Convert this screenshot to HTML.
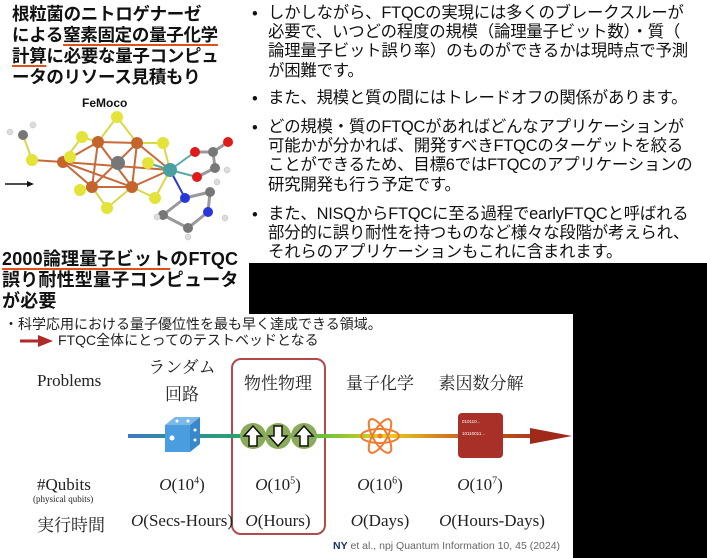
<!DOCTYPE html>
<html><head><meta charset="utf-8"><style>
*{margin:0;padding:0;box-sizing:border-box}
body{width:707px;height:558px;background:#fff;position:relative;overflow:hidden;font-family:"Liberation Sans","Noto Sans CJK JP",sans-serif;color:#111}
.a{position:absolute;white-space:nowrap}
.h{font-weight:bold;font-size:17.5px;line-height:21px;letter-spacing:-0.3px}
.u{text-decoration:underline;text-decoration-color:#e0501a;text-decoration-thickness:2px;text-underline-offset:3px}
.r{font-size:16.4px;line-height:19.2px;color:#111;letter-spacing:-0.2px}
.s{font-family:"Liberation Serif","Noto Serif CJK SC",serif;color:#222}
.c{transform:translateX(-50%)}
</style></head><body>
<div class="a h" style="left:12px;top:4px">根粒菌のニトロゲナーゼ<br>による<span class="u">窒素固定の量子化学</span><br><span class="u">計算</span>に必要な量子コンピュ<br>ータのリソース見積もり</div>
<div class="a" style="left:82px;top:96px;font-weight:bold;font-size:12px">FeMoco</div>
<svg class="a" style="left:0;top:110px" width="245" height="140" viewBox="0 110 245 140">
<g stroke="#c8693a" stroke-width="2">
<line x1="98" y1="142" x2="137" y2="143"/><line x1="98" y1="142" x2="63" y2="162"/><line x1="98" y1="142" x2="92" y2="187"/><line x1="98" y1="142" x2="132" y2="187"/><line x1="137" y1="143" x2="132" y2="187"/><line x1="137" y1="143" x2="92" y2="187"/><line x1="63" y1="162" x2="92" y2="187"/><line x1="63" y1="162" x2="132" y2="187"/><line x1="92" y1="187" x2="132" y2="187"/><line x1="63" y1="162" x2="170" y2="170"/><line x1="137" y1="143" x2="170" y2="170"/><line x1="132" y1="187" x2="170" y2="170"/><line x1="32" y1="160" x2="63" y2="162"/>
</g>
<g stroke="#d8d84a" stroke-width="2">
<line x1="117" y1="117" x2="98" y2="142"/><line x1="117" y1="117" x2="137" y2="143"/><line x1="82" y1="137" x2="98" y2="142"/><line x1="82" y1="137" x2="63" y2="162"/><line x1="80" y1="190" x2="92" y2="187"/><line x1="107" y1="208" x2="92" y2="187"/><line x1="107" y1="208" x2="132" y2="187"/><line x1="155" y1="198" x2="132" y2="187"/><line x1="155" y1="198" x2="170" y2="170"/><line x1="163" y1="143" x2="137" y2="143"/><line x1="163" y1="143" x2="170" y2="170"/><line x1="148" y1="163" x2="170" y2="170"/><line x1="23" y1="135" x2="32" y2="160"/>
</g>
<g stroke="#5aa8a8" stroke-width="2"><line x1="170" y1="170" x2="195" y2="152"/><line x1="170" y1="170" x2="197" y2="177"/><line x1="170" y1="170" x2="148" y2="163"/></g>
<g stroke="#2a3ccc" stroke-width="2"><line x1="170" y1="170" x2="185" y2="198"/></g>
<g stroke="#999" stroke-width="3"><line x1="195" y1="152" x2="213" y2="152"/><line x1="213" y1="152" x2="228" y2="142"/><line x1="213" y1="152" x2="215" y2="168"/><line x1="215" y1="168" x2="197" y2="177"/><line x1="185" y1="198" x2="210" y2="192"/><line x1="210" y1="192" x2="208" y2="212"/><line x1="208" y1="212" x2="188" y2="228"/><line x1="188" y1="228" x2="163" y2="215"/><line x1="163" y1="215" x2="185" y2="198"/></g>
<g fill="#c5652e"><circle cx="98" cy="142" r="6"/><circle cx="137" cy="143" r="6"/><circle cx="63" cy="162" r="6"/><circle cx="92" cy="187" r="6"/><circle cx="132" cy="187" r="6"/></g>
<circle cx="118" cy="163" r="7" fill="#777"/>
<circle cx="170" cy="170" r="7" fill="#4aa0a0"/>
<g fill="#e3e33a"><circle cx="117" cy="117" r="6"/><circle cx="82" cy="137" r="6"/><circle cx="70" cy="157" r="6"/><circle cx="163" cy="143" r="6"/><circle cx="148" cy="163" r="6"/><circle cx="80" cy="190" r="6"/><circle cx="107" cy="208" r="6"/><circle cx="155" cy="198" r="6"/><circle cx="32" cy="160" r="6"/></g>
<g fill="#777"><circle cx="23" cy="135" r="5"/><circle cx="213" cy="152" r="5"/><circle cx="215" cy="168" r="5"/><circle cx="210" cy="192" r="5"/><circle cx="188" cy="228" r="5"/><circle cx="163" cy="215" r="5"/></g>
<g fill="#e01a1a"><circle cx="195" cy="152" r="5"/><circle cx="197" cy="177" r="5"/><circle cx="228" cy="142" r="5"/></g>
<g fill="#2838d8"><circle cx="185" cy="198" r="5"/><circle cx="208" cy="212" r="5"/></g>
<g fill="#ddd" stroke="#bbb" stroke-width="0.5"><circle cx="10" cy="132" r="3"/><circle cx="33" cy="125" r="3"/><circle cx="227" cy="170" r="3"/><circle cx="217" cy="182" r="3"/><circle cx="225" cy="218" r="3"/><circle cx="188" cy="237" r="3"/><circle cx="157" cy="217" r="3"/></g>
<line x1="5" y1="184" x2="29" y2="184" stroke="#111" stroke-width="1.5"/><polygon points="34,184 27,181 27,187" fill="#111"/>
</svg>
<div class="a h" style="left:2px;top:249px;font-size:18px;letter-spacing:0.2px"><span class="u">2000論理量子ビット</span>のFTQC<br>誤り耐性型量子コンピュータ<br>が必要</div>

<div class="a r" style="left:252px;top:5px">•</div>
<div class="a r" style="left:268px;top:4px">しかしながら、FTQCの実現には多くのブレークスルーが<br>必要で、いつどの程度の規模（論理量子ビット数）・質（<br>論理量子ビット誤り率）のものができるかは現時点で予測<br>が困難です。</div>
<div class="a r" style="left:252px;top:90px">•</div>
<div class="a r" style="left:268px;top:89px">また、規模と質の間にはトレードオフの関係があります。</div>
<div class="a r" style="left:252px;top:119px">•</div>
<div class="a r" style="left:268px;top:118px">どの規模・質のFTQCがあればどんなアプリケーションが<br>可能かが分かれば、開発すべきFTQCのターゲットを絞る<br>ことができるため、目標6ではFTQCのアプリケーションの<br>研究開発も行う予定です。</div>
<div class="a r" style="left:252px;top:206px">•</div>
<div class="a r" style="left:268px;top:205px">また、NISQからFTQCに至る過程でearlyFTQCと呼ばれる<br>部分的に誤り耐性を持つものなど様々な段階が考えられ、<br>それらのアプリケーションもこれに含まれます。</div>

<div class="a" style="left:249px;top:263px;width:458px;height:51px;background:#000"></div>
<div class="a" style="left:573px;top:263px;width:134px;height:295px;background:#000"></div>

<div class="a" style="left:4px;top:316px;font-size:14px;line-height:17px;color:#222">・科学応用における量子優位性を最も早く達成できる領域。</div>
<svg class="a" style="left:20px;top:335px" width="34" height="12"><rect x="0" y="4.5" width="20" height="3" fill="#b02a2a"/><polygon points="18,0 33,6 18,12" fill="#b02a2a"/></svg>
<div class="a" style="left:58px;top:332px;font-size:14px;line-height:17px;color:#222">FTQC全体にとってのテストベッドとなる</div>

<div class="a" style="left:231px;top:358px;width:95px;height:177px;border:2px solid #b24a4a;border-radius:10px"></div>
<div class="a s" style="left:37px;top:371px;font-size:17px">Problems</div>
<div class="a s c" style="left:182px;top:354px;font-size:17px;line-height:27px;text-align:center">ランダム<br>回路</div>
<div class="a s c" style="left:278px;top:369px;font-size:17px">物性物理</div>
<div class="a s c" style="left:380px;top:369px;font-size:17px">量子化学</div>
<div class="a s c" style="left:481px;top:369px;font-size:17px">素因数分解</div>

<svg class="a" style="left:0;top:400px" width="580" height="70" viewBox="0 400 580 70">
<defs><linearGradient id="g" x1="128" y1="0" x2="560" y2="0" gradientUnits="userSpaceOnUse">
<stop offset="0" stop-color="#3a7cc4"/><stop offset="0.25" stop-color="#2aa070"/><stop offset="0.45" stop-color="#6ac23a"/><stop offset="0.6" stop-color="#e8d020"/><stop offset="0.75" stop-color="#d07020"/><stop offset="1" stop-color="#a02a1a"/></linearGradient></defs>
<rect x="128" y="434" width="410" height="4" fill="url(#g)"/>
<polygon points="530,428 572,436 530,444" fill="#a02a1a"/>
<polygon points="165,425 175,417 200,417 190,425" fill="#7ab8e8"/>
<polygon points="190,425 200,417 200,444 190,452" fill="#3a88cc"/>
<rect x="165" y="425" width="25" height="27" fill="#4a9ee0"/>
<circle cx="172" cy="438" r="2.5" fill="#fff"/><circle cx="177" cy="421" r="1.5" fill="#fff"/><circle cx="188" cy="421" r="1.5" fill="#fff"/><circle cx="195" cy="430" r="1.5" fill="#fff"/><circle cx="195" cy="440" r="1.5" fill="#fff"/>
<g fill="#8aac5a"><circle cx="253" cy="436" r="13"/><circle cx="278" cy="436" r="13"/><circle cx="304" cy="436" r="13"/></g>
<g fill="#fff" stroke="#111" stroke-width="1.5"><polygon points="253,426 262,436 257,436 257,446 249,446 249,436 244,436"/><polygon points="278,446 287,436 282,436 282,426 274,426 274,436 269,436"/><polygon points="304,426 313,436 308,436 308,446 300,446 300,436 295,436"/></g>
<g fill="none" stroke="#f07a30" stroke-width="2"><ellipse cx="380" cy="436" rx="19" ry="7"/><ellipse cx="380" cy="436" rx="19" ry="7" transform="rotate(60 380 436)"/><ellipse cx="380" cy="436" rx="19" ry="7" transform="rotate(-60 380 436)"/></g>
<circle cx="380" cy="436" r="2.5" fill="#f07a30"/>
<rect x="458" y="413" width="45" height="45" rx="4" fill="#a83028"/>
<text x="462" y="423" font-size="4.5" fill="#fff" font-family="Liberation Sans">010110...</text>
<text x="462" y="435" font-size="4.5" fill="#fff" font-family="Liberation Sans">10110011...</text>
</svg>

<div class="a s" style="left:37px;top:475px;font-size:17px">#Qubits</div>
<div class="a s" style="left:33px;top:494px;font-size:9px">(physical qubits)</div>
<div class="a s c" style="left:182px;top:475px;font-size:17px"><i>O</i>(10<sup style="font-size:10px">4</sup>)</div>
<div class="a s c" style="left:278px;top:475px;font-size:17px"><i>O</i>(10<sup style="font-size:10px">5</sup>)</div>
<div class="a s c" style="left:380px;top:475px;font-size:17px"><i>O</i>(10<sup style="font-size:10px">6</sup>)</div>
<div class="a s c" style="left:480px;top:475px;font-size:17px"><i>O</i>(10<sup style="font-size:10px">7</sup>)</div>
<div class="a s" style="left:37px;top:511px;font-size:17px">実行時間</div>
<div class="a s c" style="left:182px;top:511px;font-size:17px"><i>O</i>(Secs-Hours)</div>
<div class="a s c" style="left:278px;top:511px;font-size:17px"><i>O</i>(Hours)</div>
<div class="a s c" style="left:380px;top:511px;font-size:17px"><i>O</i>(Days)</div>
<div class="a s c" style="left:492px;top:511px;font-size:17px"><i>O</i>(Hours-Days)</div>
<div class="a" style="left:333px;top:540px;font-size:10.5px;color:#666"><b style="color:#1a2e6a">NY</b> et al., npj Quantum Information 10, 45 (2024)</div>
</body></html>
